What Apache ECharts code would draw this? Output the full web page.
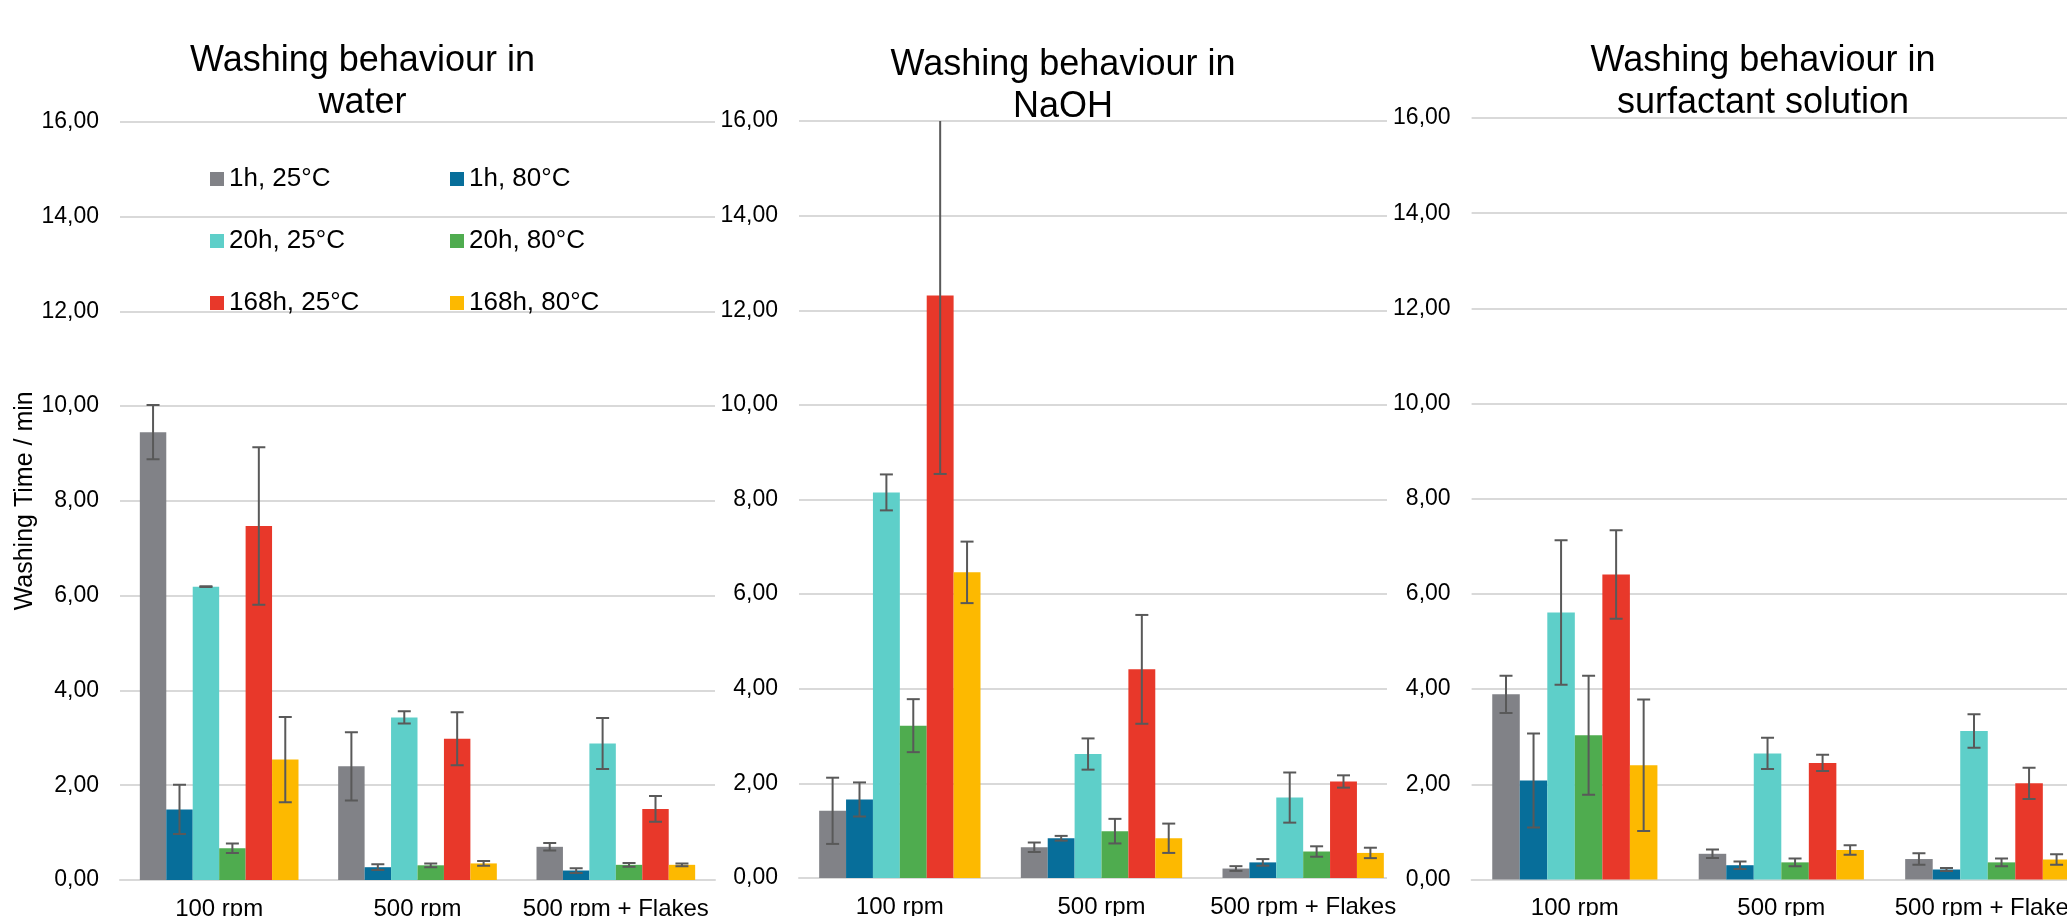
<!DOCTYPE html>
<html>
<head>
<meta charset="utf-8">
<script src="https://cdn.jsdelivr.net/npm/echarts@6/dist/echarts.min.js"></script>
<style>
  html, body { margin: 0; padding: 0; background: #fff; }
  #main { width: 2067px; height: 916px; }
</style>
</head>
<body>
<div id="main"></div>
<script>
const categories = ["100 rpm", "500 rpm", "500 rpm + Flakes"];
const seriesNames = ["1h, 25°C", "1h, 80°C", "20h, 25°C", "20h, 80°C", "168h, 25°C", "168h, 80°C"];
const seriesColors = ["#818287", "#076e9a", "#5ecfc9", "#4fac4f", "#e8382a", "#fdb900"];
const chartTitles = ["Washing behaviour in\nwater", "Washing behaviour in\nNaOH", "Washing behaviour in\nsurfactant solution"];

// rows = series (same order as seriesNames), columns = categories
const waterMean = [
  [9.45, 2.40, 0.70],
  [1.49, 0.27, 0.20],
  [6.19, 3.43, 2.88],
  [0.67, 0.31, 0.32],
  [7.47, 2.98, 1.50],
  [2.54, 0.35, 0.32]
];
const waterErr = [
  [0.57, 0.72, 0.08],
  [0.52, 0.06, 0.05],
  [0.01, 0.13, 0.54],
  [0.10, 0.04, 0.04],
  [1.66, 0.56, 0.27],
  [0.90, 0.05, 0.03]
];
const naohMean = [
  [1.42, 0.65, 0.20],
  [1.66, 0.84, 0.33],
  [8.15, 2.62, 1.70],
  [3.22, 0.99, 0.56],
  [12.31, 4.41, 2.04],
  [6.46, 0.84, 0.53]
];
const naohErr = [
  [0.70, 0.10, 0.05],
  [0.36, 0.05, 0.07],
  [0.38, 0.33, 0.53],
  [0.56, 0.26, 0.11],
  [3.77, 1.15, 0.13],
  [0.65, 0.31, 0.11]
];
const surfMean = [
  [3.89, 0.54, 0.43],
  [2.08, 0.30, 0.21],
  [5.61, 2.65, 3.12],
  [3.03, 0.36, 0.36],
  [6.41, 2.45, 2.02],
  [2.40, 0.62, 0.42]
];
const surfErr = [
  [0.39, 0.09, 0.12],
  [0.99, 0.08, 0.03],
  [1.52, 0.33, 0.35],
  [1.25, 0.08, 0.08],
  [0.93, 0.17, 0.33],
  [1.38, 0.10, 0.11]
];

const means = [waterMean, naohMean, surfMean];
const errs = [waterErr, naohErr, surfErr];

const FONT = "'Liberation Sans', Arial, sans-serif";

// plot areas of the three charts (pixels); the third runs past the right edge
const grids = [
  { left: 120, top: 121.7, width: 595, height: 758.3 },
  { left: 799, top: 121, width: 605, height: 757 },
  { left: 1471.6, top: 118, width: 619.4, height: 761.5 }
];
const titlePos = [
  { x: 362.5, y: 40 },
  { x: 1063, y: 44 },
  { x: 1763, y: 40 }
];

const myChart = echarts.init(document.getElementById("main"));

// error bars drawn on top of the grouped bars
const errorRender = (params, api) => {
  const cat = api.value(0);
  const s = api.value(1);
  const m = api.value(2);
  const e = api.value(3);
  const catW = api.size([1, 0])[0];
  const bw = catW * 0.8 / 6;
  const x = api.coord([cat, 0])[0] - catW * 0.4 + bw * (s + 0.5);
  const yTop = api.coord([cat, m + e])[1];
  const yBot = api.coord([cat, m - e])[1];
  const half = 6.5;
  const style = { stroke: "#595959", lineWidth: 2 };
  return {
    type: "group",
    children: [
      { type: "line", shape: { x1: x, y1: yTop, x2: x, y2: yBot }, style },
      { type: "line", shape: { x1: x - half, y1: yTop, x2: x + half, y2: yTop }, style },
      { type: "line", shape: { x1: x - half, y1: yBot, x2: x + half, y2: yBot }, style }
    ]
  };
};

const series = [];
for (let c = 0; c < 3; c++) {
  for (let s = 0; s < 6; s++) {
    series.push({
      name: seriesNames[s],
      type: "bar",
      xAxisIndex: c,
      yAxisIndex: c,
      barGap: "0%",
      barCategoryGap: "20%",
      z: 4,
      itemStyle: { color: seriesColors[s] },
      data: means[c][s]
    });
  }
  const errData = [];
  for (let s = 0; s < 6; s++) {
    for (let k = 0; k < 3; k++) {
      errData.push([k, s, means[c][s][k], errs[c][s][k]]);
    }
  }
  series.push({
    type: "custom",
    xAxisIndex: c,
    yAxisIndex: c,
    renderItem: errorRender,
    encode: { x: 0, y: 2 },
    clip: true,
    z: 5,
    silent: true,
    data: errData
  });
}

const option = {
  backgroundColor: "#fff",
  animation: false,
  textStyle: { fontFamily: FONT },
  title: chartTitles.map((t, i) => ({
    text: t,
    left: titlePos[i].x,
    top: titlePos[i].y,
    textAlign: "center",
    padding: 0,
    textStyle: { fontFamily: FONT, fontSize: 36, fontWeight: "normal", color: "#000", lineHeight: 42 }
  })),
  legend: [
    {
      data: [seriesNames[0], seriesNames[2], seriesNames[4]],
      orient: "vertical",
      left: 210,
      top: 166,
      padding: 0,
      icon: "rect",
      itemWidth: 14,
      itemHeight: 14,
      itemGap: 36,
      textStyle: { fontFamily: FONT, fontSize: 26, lineHeight: 26, color: "#000" }
    },
    {
      data: [seriesNames[1], seriesNames[3], seriesNames[5]],
      orient: "vertical",
      left: 450,
      top: 166,
      padding: 0,
      icon: "rect",
      itemWidth: 14,
      itemHeight: 14,
      itemGap: 36,
      textStyle: { fontFamily: FONT, fontSize: 26, lineHeight: 26, color: "#000" }
    }
  ],
  grid: grids.map(g => Object.assign({ containLabel: false, outerBoundsMode: "none" }, g)),
  xAxis: grids.map((g, i) => ({
    type: "category",
    gridIndex: i,
    data: categories,
    axisTick: { show: false },
    axisLine: { lineStyle: { color: "#d9d9d9", width: 2 } },
    axisLabel: { fontFamily: FONT, fontSize: 24, color: "#000", margin: 17, interval: 0 },
    z: i === 2 ? 3 : 0
  })),
  yAxis: grids.map((g, i) => ({
    type: "value",
    gridIndex: i,
    min: 0,
    max: 16,
    interval: 2,
    name: i === 0 ? "Washing Time / min" : "",
    nameLocation: "middle",
    nameGap: 73,
    nameTextStyle: { fontFamily: FONT, fontSize: 25, color: "#000" },
    axisLine: { show: false },
    axisTick: { show: false },
    splitLine: { lineStyle: { color: "#d9d9d9", width: 2 } },
    axisLabel: {
      fontFamily: FONT,
      fontSize: 23,
      color: "#000",
      margin: 21,
      formatter: v => v.toFixed(2).replace(".", ",")
    },
    z: i === 2 ? 3 : 0
  })),
  // chart 3's box hides the end of chart 2's gridlines
  graphic: [
    {
      type: "rect",
      z: 1,
      shape: { x: 1387, y: 100, width: 83, height: 784 },
      style: { fill: "#fff" }
    }
  ],
  series: series
};

myChart.setOption(option);
</script>
</body>
</html>
